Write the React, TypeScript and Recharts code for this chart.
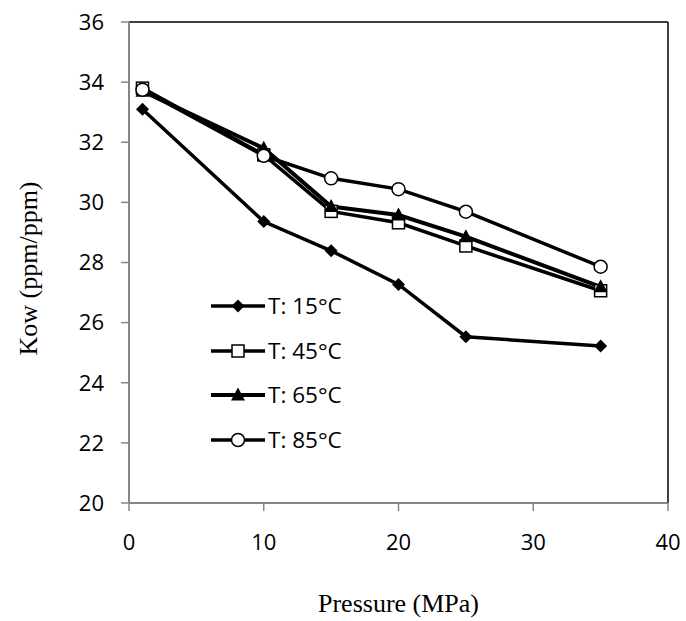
import React from 'react';
import {
  LineChart,
  Line,
  XAxis,
  YAxis,
  ReferenceLine,
} from 'recharts';

const pressures = [1, 10, 15, 20, 25, 35];
const kow15 = [33.1, 29.36, 28.39, 27.27, 25.53, 25.22];
const kow45 = [33.8, 31.58, 29.7, 29.32, 28.55, 27.06];
const kow65 = [33.7, 31.8, 29.86, 29.58, 28.86, 27.19];
const kow85 = [33.75, 31.55, 30.8, 30.44, 29.69, 27.86];

const xTicks = [0, 10, 20, 30, 40];
const yTicks = [20, 22, 24, 26, 28, 30, 32, 34, 36];

const AXIS_GREY = '#868686';
const TICK_FONT = '"Open Sans", sans-serif';
const TITLE_FONT = '"Liberation Serif", serif';

const chartData = pressures.map((p, i) => ({
  p,
  t15: kow15[i],
  t45: kow45[i],
  t65: kow65[i],
  t85: kow85[i],
}));

type MarkerKind = 'diamond' | 'square' | 'triangle' | 'circle';

const Marker = ({ kind, cx, cy }: { kind: MarkerKind; cx: number; cy: number }) => {
  switch (kind) {
    case 'diamond':
      return (
        <polygon
          points={`${cx},${cy - 6.5} ${cx + 6.5},${cy} ${cx},${cy + 6.5} ${cx - 6.5},${cy}`}
          fill="#000"
        />
      );
    case 'square':
      return (
        <rect x={cx - 6} y={cy - 6} width={12} height={12} fill="#fff" stroke="#000" strokeWidth={1.5} />
      );
    case 'triangle':
      return (
        <polygon
          points={`${cx},${cy - 7.5} ${cx + 7},${cy + 5.5} ${cx - 7},${cy + 5.5}`}
          fill="#000"
        />
      );
    default:
      return <circle cx={cx} cy={cy} r={6.5} fill="#fff" stroke="#000" strokeWidth={1.5} />;
  }
};

const makeDot = (kind: MarkerKind) => (props: any) => (
  <Marker key={`${kind}-${props.index}`} kind={kind} cx={props.cx} cy={props.cy} />
);

const series: Array<{ key: string; label: string; kind: MarkerKind; width: number }> = [
  { key: 't15', label: 'T: 15°C', kind: 'diamond', width: 3.5 },
  { key: 't45', label: 'T: 45°C', kind: 'square', width: 3.5 },
  { key: 't65', label: 'T: 65°C', kind: 'triangle', width: 4 },
  { key: 't85', label: 'T: 85°C', kind: 'circle', width: 3.5 },
];

// legend drawn as an overlay so it doesn't push the plot area around
const ChartLegend = () => (
  <div
    style={{
      position: 'absolute',
      left: 211,
      top: 284,
      fontFamily: TICK_FONT,
      fontSize: 22.5,
      color: '#000',
    }}
  >
    {series.map((s) => (
      <div key={s.key} style={{ display: 'flex', alignItems: 'center', height: 44.5 }}>
        <svg width={57} height={20} style={{ display: 'block' }}>
          <line x1={0} y1={10} x2={54} y2={10} stroke="#000" strokeWidth={s.width} />
          <Marker kind={s.kind} cx={27} cy={10} />
        </svg>
        <span style={{ lineHeight: 1 }}>{s.label}</span>
      </div>
    ))}
  </div>
);

const yTitle = (props: any) => {
  const vb = props.viewBox;
  const cy = vb.y + vb.height / 2 + 6;
  return (
    <text
      x={28}
      y={cy}
      transform={`rotate(-90, 28, ${cy})`}
      textAnchor="middle"
      dominantBaseline="central"
      fontFamily={TITLE_FONT}
      fontSize={26}
      fill="#000"
    >
      Kow (ppm/ppm)
    </text>
  );
};

export default function App() {
  return (
    <div style={{ position: 'absolute', left: 0, top: 0, width: 686, height: 621, background: '#fff' }}>
      <LineChart
        width={686}
        height={621}
        data={chartData}
        margin={{ top: 22, right: 18, bottom: 0, left: 0 }}
      >
        <XAxis
          dataKey="p"
          type="number"
          domain={[0, 40]}
          ticks={xTicks}
          height={118}
          tickSize={8}
          tickMargin={23}
          axisLine={{ stroke: AXIS_GREY, strokeWidth: 2 }}
          tickLine={{ stroke: AXIS_GREY, strokeWidth: 1.5 }}
          tick={{ fill: '#000', fontSize: 22, fontFamily: TICK_FONT }}
          label={{
            value: 'Pressure (MPa)',
            position: 'insideBottom',
            offset: 9,
            style: { fontFamily: TITLE_FONT, fontSize: 26, fill: '#000' },
          }}
        />
        <YAxis
          type="number"
          domain={[20, 36]}
          ticks={yTicks}
          width={129}
          tickSize={8}
          tickMargin={17}
          axisLine={{ stroke: AXIS_GREY, strokeWidth: 2 }}
          tickLine={{ stroke: AXIS_GREY, strokeWidth: 1.5 }}
          tick={{ fill: '#000', fontSize: 22, fontFamily: TICK_FONT }}
          label={{ content: yTitle }}
        />
        <ReferenceLine y={36} stroke="#000" strokeWidth={1.5} />
        <ReferenceLine x={40} stroke="#000" strokeWidth={1.5} />
        {series.map((s) => (
          <Line
            key={s.key}
            type="linear"
            dataKey={s.key}
            name={s.label}
            stroke="#000"
            strokeWidth={s.width}
            dot={makeDot(s.kind)}
            activeDot={false}
            isAnimationActive={false}
          />
        ))}
      </LineChart>
      <ChartLegend />
    </div>
  );
}
